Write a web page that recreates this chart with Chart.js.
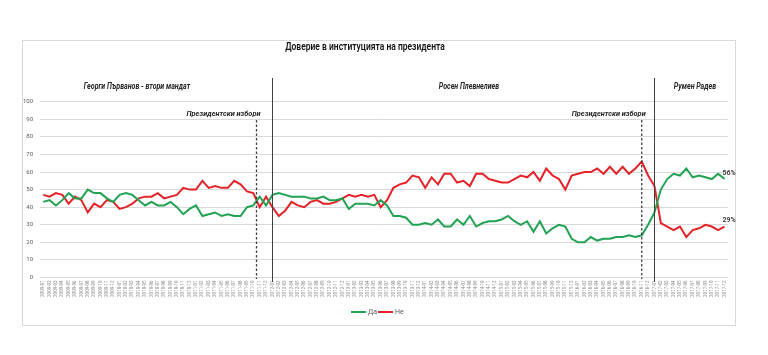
<!DOCTYPE html>
<html><head><meta charset="utf-8">
<script src="https://cdn.jsdelivr.net/npm/chart.js@4"></script>
<style>html,body{margin:0;padding:0;background:#fff}canvas{display:block}</style>
</head><body>
<canvas id="c" width="768" height="355"></canvas>
<script>
// ---- DATA ----
const months = [];
for (let y = 2009; y <= 2017; y++) for (let m = 1; m <= 12; m++) months.push(y + '-' + String(m).padStart(2, '0'));

const seriesNames = ['Да', 'Не'];

const yesValues = [
  43,44,41,44,48,45,45,50,48,48,45,43,47,48,47,44,41,43,41,41,43,40,36,39,41,35,36,37,35,36,35,35,40,41,46,41,47,48,
  47,46,46,46,45,45,46,44,44,45,39,42,42,42,41,44,41,35,35,34,30,30,31,30,33,29,29,33,30,35,29,31,32,32,33,35,32,30,
  32,26,32,25,28,30,29,22,20,20,23,21,22,22,23,23,24,23,24,30,37,50,56,59,58,62,57,58,57,56,59,56
];
const noValues = [
  47,46,48,47,42,46,44,37,42,40,44,43,39,40,42,45,46,46,48,45,46,47,51,50,50,55,51,52,51,51,55,53,49,48,40,46,40,35,
  38,43,41,40,43,44,42,42,43,45,47,46,47,46,47,40,44,51,53,54,58,57,51,57,53,59,59,54,55,52,59,59,56,55,54,54,56,58,
  57,60,55,62,58,56,50,58,59,60,60,62,59,63,59,63,59,62,66,58,52,31,29,27,29,23,27,28,30,29,27,29
];

const chartTitle = 'Доверие в институцията на президента';
const periodNames = ['Георги Първанов - втори мандат', 'Росен Плевнелиев', 'Румен Радев'];
const electionLabel = 'Президентски избори';
const electionMonths = ['2011-10', '2016-11'];
const inaugurationMonths = ['2012-01', '2017-01'];

// ---- STYLE ----
const GREEN = '#22a354';
const RED = '#e52227';
const FONT = "'Roboto', 'DejaVu Sans', sans-serif";

function squeezedText(ctx, text, x, y, sx) {
  ctx.save();
  ctx.translate(x, y);
  ctx.scale(sx, 1);
  ctx.fillText(text, 0, 0);
  ctx.restore();
}

const decor = {
  id: 'decor',
  afterDraw(chart) {
    const ctx = chart.ctx;
    const xs = chart.scales.x;
    const px = (label, shift) => {
      const i = months.indexOf(label);
      const a = xs.getPixelForValue(i), b = xs.getPixelForValue(i + 1);
      return a + (shift || 0) * (b - a);
    };
    ctx.save();
    // frame
    ctx.strokeStyle = '#d9d9d9'; ctx.lineWidth = 1;
    ctx.strokeRect(22.5, 40.5, 713, 285);
    // title
    ctx.fillStyle = '#111';
    ctx.font = '600 10.5px ' + FONT;
    ctx.textAlign = 'center'; ctx.textBaseline = 'middle';
    squeezedText(ctx, chartTitle, 365, 47, 0.81);
    // period names
    ctx.font = 'italic bold 8.5px ' + FONT;
    ctx.fillStyle = '#262626';
    const periodX = [137, 469, 695];
    periodNames.forEach((n, k) => squeezedText(ctx, n, periodX[k], 87, 0.83));
    // inauguration lines
    ctx.strokeStyle = '#404040'; ctx.lineWidth = 1;
    inaugurationMonths.forEach(m => {
      const x = Math.round(px(m, 0)) + 0.5;
      ctx.beginPath(); ctx.moveTo(x, 78); ctx.lineTo(x, 282); ctx.stroke();
    });
    // election lines
    ctx.setLineDash([2.5, 2]);
    ctx.lineWidth = 1.3;
    const shifts = [0.5, 0];
    electionMonths.forEach((m, k) => {
      const x = px(m, shifts[k]);
      ctx.beginPath(); ctx.moveTo(x, 120); ctx.lineTo(x, 279); ctx.stroke();
      ctx.fillStyle = '#262626';
      ctx.font = 'italic bold 8px ' + FONT;
      squeezedText(ctx, electionLabel, x - 33, 114, 0.92);
    });
    ctx.setLineDash([]);
    // end labels
    ctx.font = 'bold 7px ' + FONT;
    ctx.fillStyle = '#404040';
    ctx.textAlign = 'left';
    chart.data.datasets.forEach((ds, di) => {
      const meta = chart.getDatasetMeta(di);
      const pt = meta.data[meta.data.length - 1];
      ctx.fillText(ds.data[ds.data.length - 1] + '%', pt.x - 2, pt.y - 6);
    });
    // legend
    let lx = 351; const ly = 312;
    ctx.font = '7px ' + FONT;
    ctx.fillStyle = '#595959';
    chart.data.datasets.forEach(ds => {
      ctx.strokeStyle = ds.borderColor; ctx.lineWidth = 2;
      ctx.beginPath(); ctx.moveTo(lx, ly); ctx.lineTo(lx + 15, ly); ctx.stroke();
      ctx.fillText(ds.label, lx + 17, ly);
      lx += 27;
    });
    ctx.restore();
  }
};

new Chart(document.getElementById('c'), {
  type: 'line',
  data: {
    labels: months,
    datasets: [
      { label: seriesNames[0], data: yesValues, borderColor: GREEN, backgroundColor: GREEN, borderWidth: 2, pointRadius: 0, tension: 0, fill: false },
      { label: seriesNames[1], data: noValues, borderColor: RED, backgroundColor: RED, borderWidth: 2, pointRadius: 0, tension: 0, fill: false }
    ]
  },
  options: {
    responsive: false, animation: false, devicePixelRatio: 1,
    layout: { padding: { left: 0, right: 40.3, top: 101.7, bottom: 57.5 } },
    plugins: { legend: { display: false }, title: { display: false }, tooltip: { enabled: false } },
    scales: {
      x: {
        offset: true,
        grid: { display: false, drawTicks: false },
        border: { display: false },
        ticks: { autoSkip: false, minRotation: 90, maxRotation: 90, padding: 3, color: '#8c8c8c', font: { size: 4.5, family: FONT } },
        afterFit(s) { s.height = 20; }
      },
      y: {
        min: 0, max: 100,
        ticks: { stepSize: 10, padding: 7, color: '#595959', font: { size: 6, family: FONT } },
        grid: { color: '#d9d9d9', drawTicks: false },
        border: { display: false },
        afterFit(s) { s.width = 40; }
      }
    }
  },
  plugins: [decor]
});
</script>
</body></html>
